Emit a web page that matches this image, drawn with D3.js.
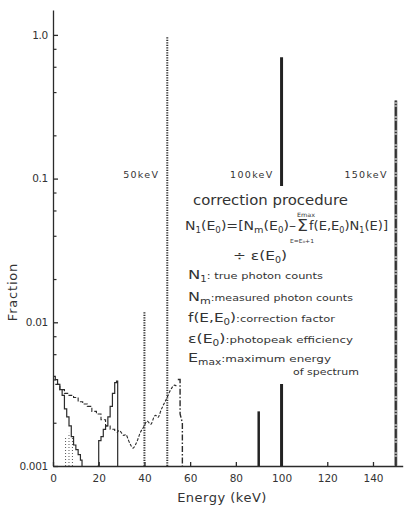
<!DOCTYPE html>
<html>
<head>
<meta charset="utf-8">
<script src="https://cdn.jsdelivr.net/npm/d3@7"></script>
<style>
  body { margin: 0; background: #fff; }
  svg { display: block; }
  text { font-family: "DejaVu Sans", sans-serif; fill: #333; }
</style>
</head>
<body>
<svg id="chart" width="407" height="512"></svg>
<script>
// ---------- data ----------
const xTicks = [0, 20, 40, 60, 80, 100, 120, 140];
const yMajorTicks = [1.0, 0.1, 0.01, 0.001];
const yMajorLabels = ["1.0", "0.1", "0.01", "0.001"];
const yMinorTicks = [0.8, 0.6, 0.4, 0.2, 0.08, 0.06, 0.04, 0.02, 0.008, 0.006, 0.004, 0.002];

// measured low-energy tail (solid step)
const tailSolid = [[0,0.0042],[1,0.0040],[2,0.0037],[3,0.0034],[4,0.0031],[5,0.0025],[6,0.0022],[7,0.0019],[8,0.0016],[9,0.0014],[10,0.0013],[11,0.0012],[12,0.0011],[12.7,0.001]];
// escape-region peak (solid step)
const escapeSolid = [[19.5,0.001],[20,0.0015],[21,0.0016],[22,0.0018],[23,0.0019],[24,0.0022],[25,0.0026],[26,0.0032],[27,0.0038],[27.8,0.0039],[28.3,0.001]];
// dashed continuum
const dashedCont = [[1,0.0037],[3,0.0034],[5,0.0032],[7,0.0031],[9,0.0030],[11,0.0028],[13,0.0027],[15,0.0026],[17,0.0024],[19,0.0023],[21,0.0021],[23,0.0019],[25,0.0018],[27,0.0017]];
// wavy continuum up to the 50 keV region
const wavyCont = [[28,0.0017],[29,0.0018],[30,0.0017],[31,0.0016],[32,0.0017],[33,0.0015],[34,0.0014],[35,0.0013],[36,0.0014],[37,0.0015],[38,0.0017],[39,0.0018],[40,0.0019],[41,0.0021],[42,0.0020],[43,0.0019],[44,0.0022],[45,0.0023],[46,0.0021],[47,0.0024],[48,0.0026],[49,0.0028],[50,0.0030],[51,0.0033],[52,0.0035],[53,0.0037],[54,0.0036]];
// dash-dot peak near 55 keV
const dashDotPeak = [[54.6,0.0040],[55.6,0.0040],[55.6,0.0023],[56.6,0.0020],[56.6,0.001]];
// dotted lines (true)
const dottedPeaks = [[40,0.012],[50,0.97]];
// solid thick lines (measured photopeaks)
const solidPeaks = [[90,0.0024,2.5],[100,0.70,3]];
// 150 keV line
const peak150 = [[150,0.35]];
const energyLabels = [["50keV",50],["100keV",100],["150keV",150]];
// dotted hatch near 5-9 keV
const hatch = [[5.5,0.0016],[7,0.0017],[8.5,0.0016]];

// ---------- scales ----------
const svg = d3.select("#chart");
const x = d3.scaleLinear().domain([0, 153]).range([53, 402.7]);
const y = d3.scaleLog().domain([0.001, 1.49]).range([466, 10]);
const ink = "#2b2b2b";

// axes
const yAxis = d3.axisLeft(y).tickValues(yMajorTicks).tickSizeInner(-5).tickSizeOuter(0).tickPadding(5)
  .tickFormat((d, i) => yMajorLabels[i]);
const gy = svg.append("g").attr("transform", `translate(${x(0)},0)`).call(yAxis);
gy.selectAll("text").style("font-size", "10.5px").style("letter-spacing", "-0.3px").attr("fill", "#333");
gy.selectAll("line, path").attr("stroke", ink).attr("stroke-width", 1.3);
const yMinor = d3.axisLeft(y).tickValues(yMinorTicks).tickSizeInner(-3.5).tickSizeOuter(0).tickFormat("");
const gy2 = svg.append("g").attr("transform", `translate(${x(0)},0)`).call(yMinor);
gy2.select("path").remove();
gy2.selectAll("line").attr("stroke", ink).attr("stroke-width", 1.2);

const xAxis = d3.axisBottom(x).tickValues(xTicks).tickSizeInner(-4).tickSizeOuter(0).tickPadding(9);
const gx = svg.append("g").attr("transform", `translate(0,${y(0.001)})`).call(xAxis);
gx.selectAll("text").style("font-size", "10.5px").attr("fill", "#333");
gx.selectAll("line, path").attr("stroke", ink).attr("stroke-width", 1.3);

// axis titles
svg.append("text").attr("x", 222).attr("y", 502).attr("text-anchor", "middle")
  .style("font-size", "13px").style("letter-spacing", "0.5px").text("Energy (keV)");
svg.append("text").attr("transform", "translate(17,292) rotate(-90)").attr("text-anchor", "middle")
  .style("font-size", "13px").style("letter-spacing", "0.8px").text("Fraction");

// ---------- marks ----------
const straight = d3.line().x(d => x(d[0])).y(d => y(d[1]));
const smooth = d3.line().x(d => x(d[0])).y(d => y(d[1])).curve(d3.curveBasis);
const stepLine = d3.line().x(d => x(d[0])).y(d => y(d[1])).curve(d3.curveStepAfter);

svg.append("path").datum(tailSolid).attr("d", stepLine).attr("fill", "none").attr("stroke", ink).attr("stroke-width", 1.2);
svg.append("path").datum(escapeSolid).attr("d", stepLine).attr("fill", "none").attr("stroke", ink).attr("stroke-width", 1.2);
svg.append("path").datum(dashedCont).attr("d", stepLine).attr("fill", "none").attr("stroke", ink).attr("stroke-width", 1.1).attr("stroke-dasharray", "4,2");
svg.append("path").datum(wavyCont).attr("d", smooth).attr("fill", "none").attr("stroke", ink).attr("stroke-width", 1.1).attr("stroke-dasharray", "3,1.5");
svg.append("path").datum(dashDotPeak).attr("d", straight).attr("fill", "none").attr("stroke", ink).attr("stroke-width", 1.4).attr("stroke-dasharray", "6,2,1.5,2");

svg.selectAll(".hatch").data(hatch).join("line")
  .attr("x1", d => x(d[0])).attr("x2", d => x(d[0]))
  .attr("y1", y(0.001)).attr("y2", d => y(d[1]))
  .attr("stroke", "#555").attr("stroke-width", 1).attr("stroke-dasharray", "1,2");

svg.selectAll(".dotted").data(dottedPeaks).join("line")
  .attr("x1", d => x(d[0])).attr("x2", d => x(d[0]))
  .attr("y1", y(0.001)).attr("y2", d => y(d[1]))
  .attr("stroke", "#333").attr("stroke-width", 2).attr("stroke-dasharray", "1.2,1.3");

svg.selectAll(".solidpk").data(solidPeaks).join("line")
  .attr("x1", d => x(d[0])).attr("x2", d => x(d[0]))
  .attr("y1", y(0.001)).attr("y2", d => y(d[1]))
  .attr("stroke", "#222").attr("stroke-width", d => d[2]);

// white text panel (covers lines behind the annotation)
svg.append("rect").attr("x", 186).attr("y", 186).attr("width", 203).attr("height", 198).attr("fill", "#fff");

// 150 keV line: grey band + dark dash-dot
svg.selectAll(".pk150").data(peak150).join("line")
  .attr("x1", d => x(d[0])).attr("x2", d => x(d[0]))
  .attr("y1", y(0.001)).attr("y2", d => y(d[1]))
  .attr("stroke", "#9a9a9a").attr("stroke-width", 3.2);
svg.selectAll(".pk150b").data(peak150).join("line")
  .attr("x1", d => x(d[0])).attr("x2", d => x(d[0]))
  .attr("y1", y(0.001)).attr("y2", d => y(d[1]))
  .attr("stroke", "#333").attr("stroke-width", 2).attr("stroke-dasharray", "9,2,1,2");

// energy labels
svg.selectAll(".elab").data(energyLabels).join("text")
  .attr("x", d => x(d[1]) - 8).attr("y", 178).attr("text-anchor", "end")
  .style("font-size", "9.5px").style("letter-spacing", "1.3px").attr("fill", "#444").text(d => d[0]);

// ---------- annotation ----------
function addText(xp, yp, size, len) {
  const t = svg.append("text").attr("x", xp).attr("y", yp).style("font-size", size + "px");
  if (len) t.attr("textLength", len).attr("lengthAdjust", "spacingAndGlyphs");
  return t;
}
// segs: [string, "n" | "s", fontSize?]  ("s" = subscript)
function rich(t, segs) {
  let off = 0;
  segs.forEach(([s, kind, size]) => {
    const target = kind === "s" ? 3 : 0;
    const ts = t.append("tspan").attr("dy", target - off).text(s);
    if (size) ts.style("font-size", size + "px");
    off = target;
  });
}

addText(193, 205, 13.5, 155).text("correction procedure");

rich(addText(185, 230, 13, 111), [["N","n"],["1","s",8],["(E","n"],["0","s",8],[")=[N","n"],["m","s",9],["(E","n"],["0","s",8],[")–","n"]]);
addText(297, 231, 15, 11).text("Σ");
rich(addText(309, 230, 13, 79), [["f(E,E","n"],["0","s",8],[")N","n"],["1","s",8],["(E)]","n"]]);
addText(297, 216.5, 6, 18).text("Emax");
addText(290, 243, 5.5, 24).text("E=E₀+1");

rich(addText(233, 260, 13, 54), [["÷ ε(E","n"],["0","s",8],[")","n"]]);

rich(addText(188, 279, 13, 135), [["N","n"],["1","s",8],[": true photon counts","n",9]]);
rich(addText(188, 301, 13, 165), [["N","n"],["m","s",9],[":measured photon counts","n",9]]);
rich(addText(188, 322, 12, 147), [["f(E,E","n"],["0","s",8],[")","n"],[":correction factor","n",9]]);
rich(addText(188, 343, 12, 165), [["ε(E","n"],["0","s",8],[")","n"],[":photopeak efficiency","n",9]]);
rich(addText(188, 362, 12, 143), [["E","n"],["max","s",8],[":maximum energy","n",9]]);
addText(293, 375, 9, 66).text("of spectrum");
</script>
</body>
</html>
